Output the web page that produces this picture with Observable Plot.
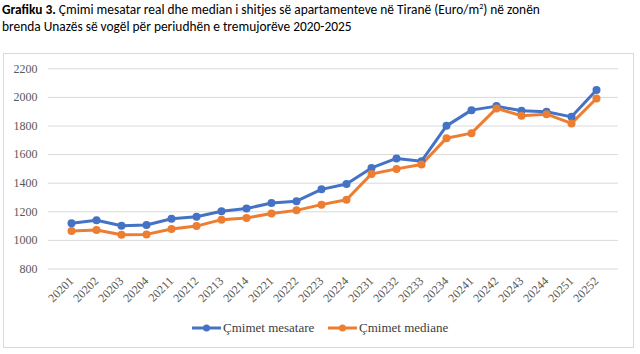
<!DOCTYPE html>
<html><head><meta charset="utf-8">
<script src="https://cdn.jsdelivr.net/npm/d3@7"></script>
<script src="https://cdn.jsdelivr.net/npm/@observablehq/plot@0.6"></script>
<style>
body{margin:0;width:640px;height:354px;background:#fff;position:relative;overflow:hidden}
#title{position:absolute;left:2px;top:1px;font-family:Carlito,Calibri,Lato,sans-serif;font-size:13.4px;line-height:17px;color:#000;white-space:nowrap}
#box{position:absolute;left:3px;top:53px;width:629px;height:293px;border:1px solid #d9d9d9;box-sizing:content-box}
#chart{position:absolute;left:0;top:53px}
#legend{position:absolute;top:320px;left:0;width:640px;font-family:"Liberation Serif",serif;font-size:13px;color:#404040}
.li{position:absolute;top:0;display:flex;align-items:center;height:16px}
.li svg{margin-right:2px}
</style></head><body>
<div id="title"><b>Grafiku 3.</b> Çmimi mesatar real dhe median i shitjes së apartamenteve në Tiranë (Euro/m<sup style="font-size:8px;line-height:0">2</sup>) në zonën<br>brenda Unazës së vogël për periudhën e tremujorëve 2020-2025</div>
<div id="box"></div>
<div id="chart"></div>
<div id="legend"></div>
<script>
const quarters = ["20201","20202","20203","20204","20211","20212","20213","20214","20221","20222","20223","20224","20231","20232","20233","20234","20241","20242","20243","20244","20251","20252"];
const meanPrice = [1120,1141,1102,1108,1151,1166,1204,1223,1261,1274,1357,1395,1507,1573,1554,1801,1911,1939,1906,1899,1864,2052];
const medianPrice = [1066,1073,1040,1042,1080,1100,1145,1157,1188,1210,1250,1284,1465,1500,1531,1715,1750,1923,1872,1883,1818,1992];
const seriesNames = ["Çmimet mesatare","Çmimet mediane"];
const colors = ["#4472C4","#ED7D31"];
const yTicks = [800,1000,1200,1400,1600,1800,2000,2200];

const data = [];
quarters.forEach((q,i)=>{
  data.push({q, v: meanPrice[i], s: seriesNames[0]});
  data.push({q, v: medianPrice[i], s: seriesNames[1]});
});

const chart = Plot.plot({
  width: 640,
  height: 262,
  marginLeft: 48,
  marginRight: 22,
  marginTop: 15.3,
  marginBottom: 46.5,
  style: "font-family:'Liberation Serif',serif;font-size:12px;color:#595959;background:transparent",
  x: {type: "point", domain: quarters, padding: 0.5, label: null},
  y: {domain: [800, 2200], label: null},
  color: {domain: seriesNames, range: colors},
  marks: [
    Plot.gridY(yTicks, {stroke: "#d9d9d9", strokeOpacity: 1, strokeWidth: 1}),
    Plot.axisY(yTicks, {tickSize: 0, tickPadding: 11, tickFormat: d => String(d), label: null}),
    Plot.axisX({tickSize: 0, tickPadding: 7, tickRotate: -45, dy: 3, label: null}),
    Plot.line(data, {x: "q", y: "v", stroke: "s", strokeWidth: 3, strokeLinejoin: "round"}),
    Plot.dot(data, {x: "q", y: "v", fill: "s", r: 4, stroke: "none"})
  ]
});
document.getElementById("chart").appendChild(chart);

const legend = document.getElementById("legend");
const lx = [192, 328];
seriesNames.forEach((n,i)=>{
  const d = document.createElement("div");
  d.className = "li";
  d.style.left = lx[i] + "px";
  d.innerHTML = `<svg width="29" height="10"><line x1="0" y1="5" x2="29" y2="5" stroke="${colors[i]}" stroke-width="3"/><circle cx="14.5" cy="5" r="3.5" fill="${colors[i]}"/></svg><span>${n}</span>`;
  legend.appendChild(d);
});
</script>
</body></html>
